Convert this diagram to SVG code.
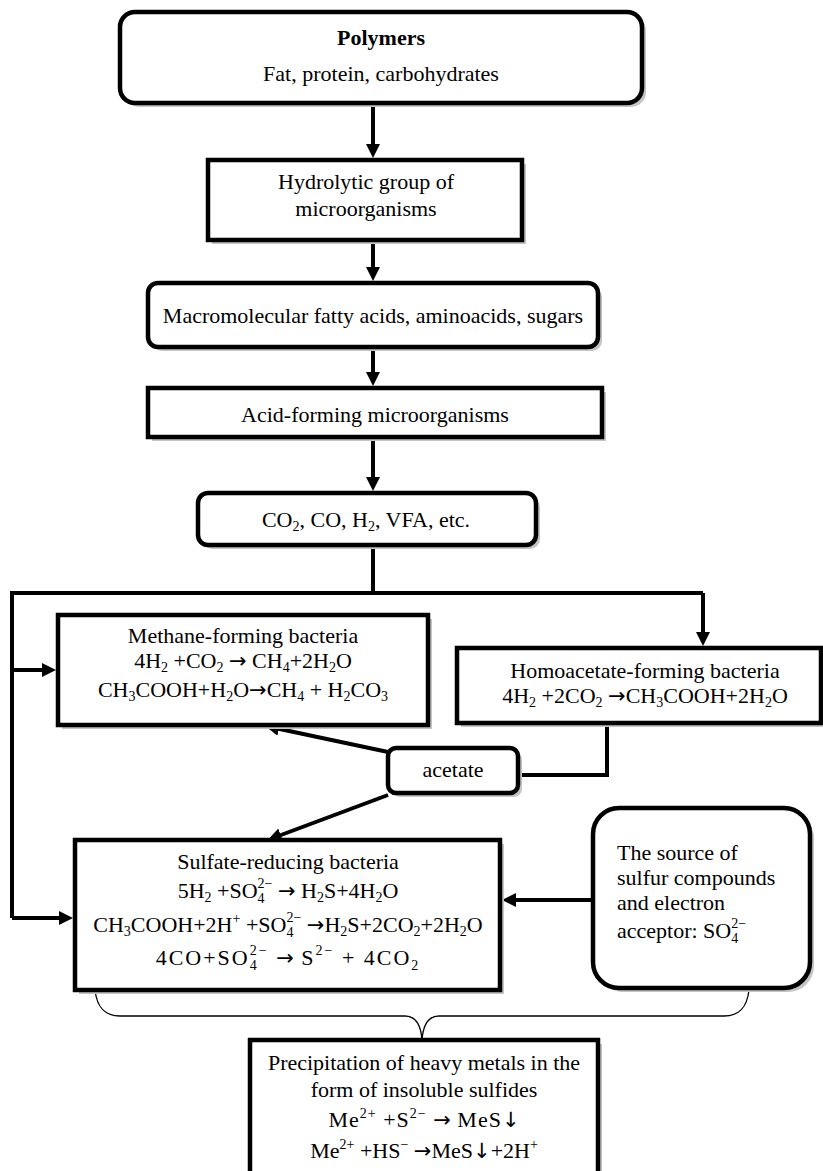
<svg xmlns="http://www.w3.org/2000/svg" width="823" height="1171" viewBox="0 0 823 1171">
<style>
text{font-family:"Liberation Serif","DejaVu Serif",serif;font-size:22px;fill:#000}
.c{text-anchor:middle}
.b{font-weight:bold}
.s{font-size:14px}
.a{font-family:"DejaVu Sans",sans-serif;font-size:21px}
.box{fill:#fff;stroke:#000;stroke-width:4.5}
.sh{fill:#c4c4c4}
.ln{fill:none;stroke:#000;stroke-width:4}
.br{fill:none;stroke:#000;stroke-width:1.3}
</style>
<defs>
<marker id="ah" viewBox="0 0 14 14" refX="4" refY="7" markerWidth="14" markerHeight="14" markerUnits="userSpaceOnUse" orient="auto">
<path d="M0,0 L14,7 L0,14 z" fill="#000"/>
</marker>
</defs>
<rect width="823" height="1171" fill="#fff"/>

<g id="connectors">
<line class="ln" x1="373" y1="103" x2="373" y2="148" marker-end="url(#ah)"/>
<line class="ln" x1="373" y1="240" x2="373" y2="271" marker-end="url(#ah)"/>
<line class="ln" x1="373" y1="347" x2="373" y2="376" marker-end="url(#ah)"/>
<line class="ln" x1="373" y1="437" x2="373" y2="481" marker-end="url(#ah)"/>
<polyline class="ln" points="373,545 373,593"/>
<polyline class="ln" points="12,593 703,593"/>
<line class="ln" x1="703" y1="593" x2="703" y2="636" marker-end="url(#ah)"/>
<polyline class="ln" points="12,591 12,918"/>
<line class="ln" x1="12" y1="670" x2="46" y2="670" marker-end="url(#ah)"/>
<line class="ln" x1="12" y1="918" x2="63" y2="918" marker-end="url(#ah)"/>
<polyline class="ln" points="607,723 607,775 518,775"/>
<line class="ln" x1="388" y1="752" x2="275" y2="728" marker-end="url(#ah)"/>
<line class="ln" x1="388" y1="795" x2="277" y2="836.5" marker-end="url(#ah)"/>
<line class="ln" x1="593" y1="900" x2="512" y2="900" marker-end="url(#ah)"/>
<path class="br" d="M95,990 C97,1008 105,1016 120,1016 L405,1016 C416,1016 421,1026 422,1040 C423,1026 428,1016 439,1016 L724,1016 C739,1016 747,1008 749,990"/>
</g>

<g id="polymers">
<rect class="sh" x="124" y="16" width="522" height="91" rx="15"/>
<rect class="box" x="120" y="12" width="522" height="91" rx="15"/>
<text class="c b" x="381" y="45">Polymers</text>
<text class="c" x="381" y="81">Fat, protein, carbohydrates</text>
</g>

<g id="hydrolytic">
<rect class="sh" x="212" y="164" width="314" height="80"/>
<rect class="box" x="208" y="160" width="314" height="80"/>
<text class="c" x="366" y="189">Hydrolytic group of</text>
<text class="c" x="366" y="216">microorganisms</text>
</g>

<g id="macromolecular">
<rect class="sh" x="152" y="287" width="450" height="64" rx="10"/>
<rect class="box" x="148" y="283" width="450" height="64" rx="10"/>
<text class="c" x="373" y="323">Macromolecular fatty acids, aminoacids, sugars</text>
</g>

<g id="acid-forming">
<rect class="sh" x="152" y="392" width="454" height="49"/>
<rect class="box" x="148" y="388" width="454" height="49"/>
<text class="c" x="375" y="422">Acid-forming microorganisms</text>
</g>

<g id="products">
<rect class="sh" x="202" y="497" width="338" height="52" rx="10"/>
<rect class="box" x="198" y="493" width="338" height="52" rx="10"/>
<text class="c" x="366" y="527">CO<tspan class="s" dy="4">2</tspan><tspan dy="-4">, CO, H</tspan><tspan class="s" dy="4">2</tspan><tspan dy="-4">, VFA, etc.</tspan></text>
</g>

<g id="methane">
<rect class="sh" x="62" y="619" width="370" height="110"/>
<rect class="box" x="58" y="615" width="370" height="110"/>
<text class="c" x="243" y="643">Methane-forming bacteria</text>
<text class="c" x="243" y="668">4H<tspan class="s" dy="4">2</tspan><tspan dy="-4"> +CO</tspan><tspan class="s" dy="4">2</tspan><tspan dy="-4"> </tspan><tspan class="a">→</tspan><tspan> CH</tspan><tspan class="s" dy="4">4</tspan><tspan dy="-4">+2H</tspan><tspan class="s" dy="4">2</tspan><tspan dy="-4">O</tspan></text>
<text class="c" x="243" y="697">CH<tspan class="s" dy="4">3</tspan><tspan dy="-4">COOH+H</tspan><tspan class="s" dy="4">2</tspan><tspan dy="-4">O</tspan><tspan class="a">→</tspan><tspan>CH</tspan><tspan class="s" dy="4">4</tspan><tspan dy="-4"> + H</tspan><tspan class="s" dy="4">2</tspan><tspan dy="-4">CO</tspan><tspan class="s" dy="4">3</tspan></text>
</g>

<g id="homoacetate">
<rect class="sh" x="461" y="652" width="364" height="75"/>
<rect class="box" x="457" y="648" width="364" height="75"/>
<text class="c" x="645" y="678">Homoacetate-forming bacteria</text>
<text class="c" x="645" y="703">4H<tspan class="s" dy="4">2</tspan><tspan dy="-4"> +2CO</tspan><tspan class="s" dy="4">2</tspan><tspan dy="-4"> </tspan><tspan class="a">→</tspan><tspan>CH</tspan><tspan class="s" dy="4">3</tspan><tspan dy="-4">COOH+2H</tspan><tspan class="s" dy="4">2</tspan><tspan dy="-4">O</tspan></text>
</g>

<g id="acetate">
<rect class="sh" x="392" y="752" width="130" height="45" rx="8"/>
<rect class="box" x="388" y="748" width="130" height="45" rx="8"/>
<text class="c" x="453" y="777">acetate</text>
</g>

<g id="sulfate">
<rect class="sh" x="79" y="844" width="425" height="150"/>
<rect class="box" x="75" y="840" width="425" height="150"/>
<text class="c" x="288" y="869">Sulfate-reducing bacteria</text>
<text class="c" x="288" y="898">5H<tspan class="s" dy="4">2</tspan><tspan dy="-4"> +SO</tspan><tspan class="s" dy="5">4</tspan><tspan class="s" dx="-7" dy="-15">2−</tspan><tspan dy="10"> </tspan><tspan class="a">→</tspan><tspan> H</tspan><tspan class="s" dy="4">2</tspan><tspan dy="-4">S+4H</tspan><tspan class="s" dy="4">2</tspan><tspan dy="-4">O</tspan></text>
<text class="c" x="288" y="932">CH<tspan class="s" dy="4">3</tspan><tspan dy="-4">COOH+2H</tspan><tspan class="s" dy="-9">+</tspan><tspan dy="9"> +SO</tspan><tspan class="s" dy="5">4</tspan><tspan class="s" dx="-7" dy="-15">2−</tspan><tspan dy="10"> </tspan><tspan class="a">→</tspan><tspan>H</tspan><tspan class="s" dy="4">2</tspan><tspan dy="-4">S+2CO</tspan><tspan class="s" dy="4">2</tspan><tspan dy="-4">+2H</tspan><tspan class="s" dy="4">2</tspan><tspan dy="-4">O</tspan></text>
<text class="c" x="288" y="965" letter-spacing="2">4CO+SO<tspan class="s" dy="5">4</tspan><tspan class="s" dx="-9" dy="-15">2−</tspan><tspan dy="10"> </tspan><tspan class="a" letter-spacing="0">→</tspan><tspan> S</tspan><tspan class="s" dy="-10">2−</tspan><tspan dy="10"> + 4CO</tspan><tspan class="s" dy="5">2</tspan></text>
</g>

<g id="source">
<rect class="sh" x="597" y="812" width="217" height="180" rx="26"/>
<rect class="box" x="593" y="808" width="217" height="180" rx="26"/>
<text x="617" y="860">The source of</text>
<text x="617" y="885">sulfur compounds</text>
<text x="617" y="910">and electron</text>
<text x="617" y="938">acceptor: SO<tspan class="s" dy="5">4</tspan><tspan class="s" dx="-7" dy="-15">2−</tspan></text>
</g>

<g id="precipitation">
<rect class="sh" x="254" y="1044" width="348" height="140"/>
<rect class="box" x="250" y="1040" width="348" height="140"/>
<text class="c" x="424" y="1070">Precipitation of heavy metals in the</text>
<text class="c" x="424" y="1097">form of insoluble sulfides</text>
<text class="c" x="424" y="1127" letter-spacing="1">Me<tspan class="s" dy="-9">2+</tspan><tspan dy="9"> +S</tspan><tspan class="s" dy="-9">2−</tspan><tspan dy="9"> </tspan><tspan class="a" letter-spacing="0">→</tspan><tspan> MeS</tspan><tspan class="a" letter-spacing="0">↓</tspan></text>
<text class="c" x="424" y="1158">Me<tspan class="s" dy="-9">2+</tspan><tspan dy="9"> +HS</tspan><tspan class="s" dy="-9">−</tspan><tspan dy="9"> </tspan><tspan class="a">→</tspan><tspan>MeS</tspan><tspan class="a">↓</tspan><tspan>+2H</tspan><tspan class="s" dy="-9">+</tspan></text>
</g>
</svg>
